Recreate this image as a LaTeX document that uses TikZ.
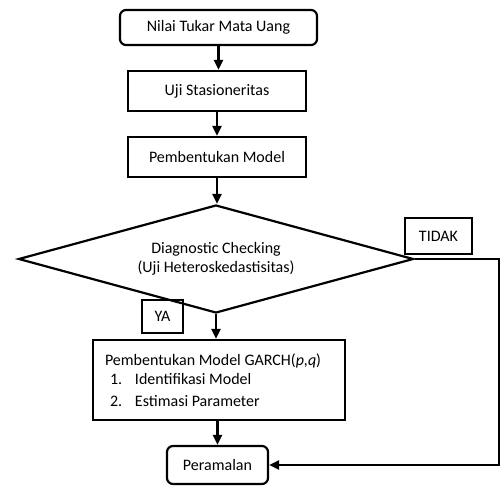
\documentclass[tikz,border=0pt]{standalone}
\usepackage{fontspec}
\setmainfont{Carlito}
\usetikzlibrary{arrows.meta,shapes.geometric}

\begin{document}
\begin{tikzpicture}[x=1pt,y=-1pt,
  font=\fontsize{16}{19.5}\selectfont, >={Triangle[length=10pt,width=9pt]},
  term/.style={draw, line width=2.2pt, rounded corners=6pt, align=flush center, inner sep=0pt},
  proc/.style={draw, line width=2.2pt, align=flush center, inner sep=0pt},
  dec/.style={draw, line width=2.2pt, diamond, aspect=3.66, align=flush center, inner sep=0pt},
  lbl/.style={draw, line width=2pt, inner sep=0pt},
  flow/.style={->, line width=2.2pt},
]
\useasboundingbox (0,0) rectangle (501,485);
% main flow (top -> bottom)
\node[term, minimum width=197, minimum height=35] (nilai) at (218.5,27.5) {Nilai Tukar Mata Uang};
\node[proc, minimum width=178, minimum height=40] (stas) at (217,91) {Uji Stasioneritas};
\node[proc, minimum width=178, minimum height=40] (model) at (217,157) {Pembentukan Model};
\node[dec, minimum width=395, minimum height=108] (diag) at (216,259)
  {Diagnostic Checking\\(Uji Heteroskedastisitas)};
\node[proc, minimum width=252, minimum height=80, text width=228, inner xsep=12pt, align=flush left] (garch) at (219,380)
  {Pembentukan Model GARCH(\textit{p,q})\\
   \hspace*{5pt}\makebox[25pt][l]{1.}Identifikasi Model\\[2pt]
   \hspace*{5pt}\makebox[25pt][l]{2.}Estimasi Parameter};
\node[term, minimum width=101, minimum height=38] (ramal) at (217.5,465) {Peramalan};
% branch labels
\node[lbl, minimum width=67, minimum height=36] (tidak) at (438.5,236) {TIDAK};
\node[lbl, minimum width=41, minimum height=33] (ya) at (162.5,316.5) {YA};
\coordinate (loop) at (499,259);

% flows
\draw[flow] (nilai.south) -- (nilai.south |- stas.north);
\draw[flow] (stas.south) -- (model.north);
\draw[flow] (model.south) -- (model.south |- diag.north);
\draw[flow] (diag.south) -- (diag.south |- garch.north);
\draw[flow] (garch.south -| ramal.north) -- (ramal.north);
\draw[flow] (diag.east) -- (loop) |- (ramal.east);
\end{tikzpicture}
\end{document}
